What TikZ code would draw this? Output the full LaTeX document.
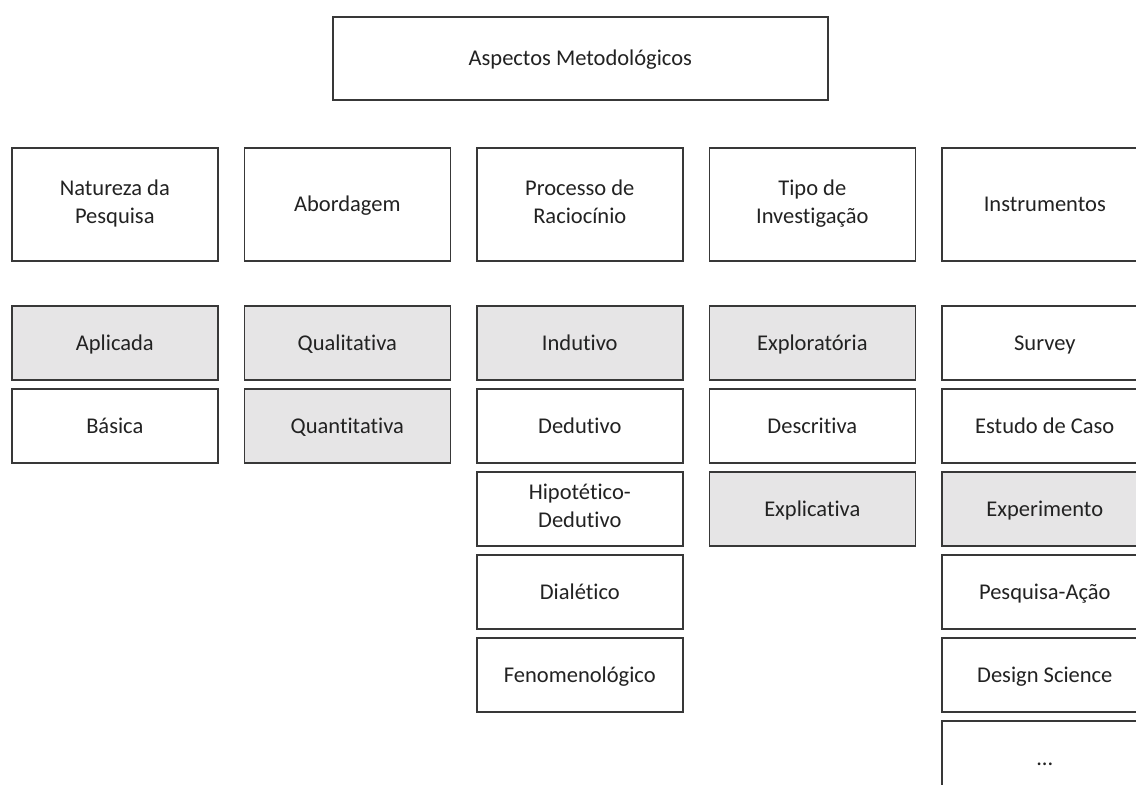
\documentclass[tikz,border=0pt]{standalone}
\usepackage{fontspec}
\setmainfont{Carlito}[Ligatures=NoCommon]
\definecolor{edge}{HTML}{383838}
\definecolor{shade}{HTML}{E6E5E6}
\definecolor{ink}{HTML}{222222}
% invisible rule that centres the cap height of each label in its box
\newcommand\capfix{\rule[-6.2pt]{0pt}{26.8pt}}
\begin{document}
\begin{tikzpicture}[x=1pt,y=1pt,
  box/.style={draw=edge, line width=1.6pt, fill=white, anchor=north west,
    minimum width=206pt, inner sep=0pt, align=center, text=ink,
    font=\fontsize{22.5}{28}\selectfont,
    execute at begin node=\capfix, execute at end node=\capfix},
  head/.style={box, minimum height=113pt},
  cell/.style={box, minimum height=74pt},
  marked/.style={cell, fill=shade}]
\useasboundingbox (0,0) rectangle (1136,-785);
\clip (0,0) rectangle (1136,-785);

% title
\node[box, minimum width=495pt, minimum height=83pt] (title) at (332,-16) {Aspectos Metodológicos};

% column headers
\node[head] (h1) at (11,-147)  {Natureza da\\Pesquisa};
\node[head] (h2) at (243.5,-147) {Abordagem};
\node[head] (h3) at (476,-147) {Processo de\\Raciocínio};
\node[head] (h4) at (708.5,-147) {Tipo de\\Investigação};
\node[head] (h5) at (941,-147) {Instrumentos};

% Natureza da Pesquisa
\node[marked] (a1) at (11,-305) {Aplicada};
\node[cell]   (a2) at (11,-388) {Básica};

% Abordagem
\node[marked] (b1) at (243.5,-305) {Qualitativa};
\node[marked] (b2) at (243.5,-388) {Quantitativa};

% Processo de Raciocinio
\node[marked] (c1) at (476,-305) {Indutivo};
\node[cell]   (c2) at (476,-388) {Dedutivo};
\node[cell]   (c3) at (476,-471) {Hipotético-\\Dedutivo};
\node[cell]   (c4) at (476,-554) {Dialético};
\node[cell]   (c5) at (476,-637) {Fenomenológico};

% Tipo de Investigacao
\node[marked] (d1) at (708.5,-305) {Exploratória};
\node[cell]   (d2) at (708.5,-388) {Descritiva};
\node[marked] (d3) at (708.5,-471) {Explicativa};

% Instrumentos
\node[cell]   (e1) at (941,-305) {Survey};
\node[cell]   (e2) at (941,-388) {Estudo de Caso};
\node[marked] (e3) at (941,-471) {Experimento};
\node[cell]   (e4) at (941,-554) {Pesquisa-Ação};
\node[cell]   (e5) at (941,-637) {Design Science};
\node[cell]   (e6) at (941,-720) {...};
\end{tikzpicture}
\end{document}
